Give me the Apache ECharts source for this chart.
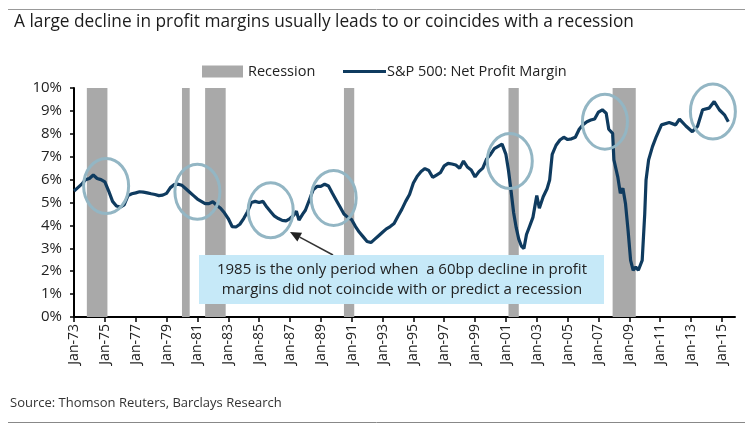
<!DOCTYPE html>
<html lang="en">
<head>
    <meta charset="UTF-8">
    <title>Profit margins and recessions</title>
    <style>
        html, body { margin: 0; padding: 0; background: #fff; }
        #main { width: 751px; height: 429px; }
    </style>
    <script src="https://cdn.jsdelivr.net/npm/echarts@6/dist/echarts.min.js"></script>
</head>
<body>
    <div id="main"></div>
    <script>
        // S&P 500 net profit margin (%)
        var dates = [
            '1973-01', '1973-04', '1973-07', '1973-10', '1974-01', '1974-04', '1974-07', '1974-10',
            '1975-01', '1975-04', '1975-07', '1975-10', '1976-01', '1976-04', '1976-07', '1976-10',
            '1977-01', '1977-04', '1977-07', '1977-10', '1978-01', '1978-04', '1978-07', '1978-10',
            '1979-01', '1979-04', '1979-07', '1979-10', '1980-01', '1980-04', '1980-07', '1980-10',
            '1981-01', '1981-04', '1981-07', '1981-10', '1982-01', '1982-04', '1982-07', '1982-10',
            '1983-01', '1983-04', '1983-07', '1983-10', '1984-01', '1984-04', '1984-07', '1984-10',
            '1985-01', '1985-04', '1985-07', '1985-10', '1986-01', '1986-04', '1986-07', '1986-10',
            '1987-01', '1987-04', '1987-06', '1987-08', '1987-11', '1988-01', '1988-04', '1988-07',
            '1988-10', '1989-01', '1989-04', '1989-07', '1989-10', '1990-01', '1990-04', '1990-07',
            '1990-10', '1991-01', '1991-04', '1991-07', '1991-10', '1992-01', '1992-04', '1992-07',
            '1992-10', '1993-01', '1993-04', '1993-07', '1993-10', '1994-01', '1994-04', '1994-07',
            '1994-10', '1995-01', '1995-04', '1995-07', '1995-10', '1996-01', '1996-04', '1996-07',
            '1996-10', '1997-01', '1997-04', '1997-07', '1997-10', '1998-01', '1998-04', '1998-07',
            '1998-10', '1999-01', '1999-04', '1999-07', '1999-10', '2000-01', '2000-04', '2000-07',
            '2000-10', '2001-01', '2001-03', '2001-05', '2001-07', '2001-09', '2001-11', '2002-01',
            '2002-03', '2002-05', '2002-07', '2002-10', '2003-01', '2003-03', '2003-06', '2003-09',
            '2003-11', '2004-01', '2004-04', '2004-07', '2004-10', '2005-01', '2005-04', '2005-07',
            '2005-10', '2006-01', '2006-04', '2006-07', '2006-10', '2007-01', '2007-04', '2007-07',
            '2007-09', '2007-12', '2008-01', '2008-04', '2008-06', '2008-08', '2008-10', '2008-12',
            '2009-02', '2009-04', '2009-06', '2009-08', '2009-11', '2010-01', '2010-02', '2010-04',
            '2010-07', '2010-10', '2011-02', '2011-08', '2012-01', '2012-04', '2012-09', '2013-02',
            '2013-06', '2013-10', '2014-03', '2014-07', '2014-11', '2015-03', '2015-06'
        ];
        var margins = [
            5.50, 5.65, 5.80, 6.00, 6.05, 6.20, 6.05, 6.00,
            5.90, 5.50, 5.05, 4.85, 4.80, 4.90, 5.30, 5.38,
            5.42, 5.47, 5.45, 5.42, 5.38, 5.35, 5.30, 5.32,
            5.40, 5.65, 5.78, 5.80, 5.75, 5.60, 5.45, 5.30,
            5.15, 5.05, 4.95, 4.95, 5.03, 4.88, 4.75, 4.55,
            4.30, 3.95, 3.93, 4.05, 4.30, 4.60, 5.00, 5.05,
            5.00, 5.05, 4.80, 4.60, 4.40, 4.30, 4.22, 4.20,
            4.30, 4.45, 4.62, 4.23, 4.50, 4.66, 5.10, 5.55,
            5.70, 5.70, 5.80, 5.72, 5.40, 5.10, 4.80, 4.50,
            4.35, 4.25, 3.95, 3.70, 3.50, 3.30, 3.25, 3.40,
            3.55, 3.70, 3.85, 3.95, 4.08, 4.40, 4.70, 5.05,
            5.35, 5.85, 6.15, 6.35, 6.48, 6.40, 6.10, 6.20,
            6.30, 6.60, 6.71, 6.68, 6.64, 6.50, 6.81, 6.55,
            6.42, 6.12, 6.35, 6.50, 6.90, 7.10, 7.35, 7.45,
            7.55, 7.10, 6.40, 5.50, 4.55, 3.90, 3.40, 3.10,
            2.99, 3.60, 3.90, 4.35, 5.30, 4.75, 5.25, 5.60,
            5.98, 7.10, 7.50, 7.73, 7.85, 7.75, 7.78, 7.85,
            8.20, 8.40, 8.53, 8.60, 8.65, 8.95, 9.05, 8.90,
            8.20, 8.02, 6.86, 6.12, 5.40, 5.62, 4.96, 3.79,
            2.47, 2.04, 2.18, 2.04, 2.47, 4.52, 5.98, 6.86,
            7.44, 7.88, 8.39, 8.49, 8.39, 8.64, 8.34, 8.09,
            8.32, 9.05, 9.12, 9.41, 9.05, 8.83, 8.53
        ];

        // NBER recessions
        var recessionStart = ['1973-11', '1980-01', '1981-07', '1990-07', '2001-03', '2007-12'];
        var recessionEnd   = ['1975-03', '1980-07', '1982-11', '1991-03', '2001-11', '2009-06'];

        // highlighted episodes (date, margin) for the circles
        var circleDates   = ['1975-02', '1981-01', '1985-10', '1989-11', '2001-04', '2007-06', '2014-06'];
        var circleMargins = [5.72, 5.47, 4.66, 5.20, 6.81, 8.53, 8.97];

        var baseYear = 1973;
        function toX(d) {
            var p = d.split('-');
            return (+p[0] - baseYear) + (+p[1] - 1) / 12;
        }

        var lineData = dates.map(function (d, i) { return [toX(d), margins[i]]; });
        var recessionData = recessionStart.map(function (d, i) { return [toX(d), toX(recessionEnd[i])]; });

        var fontName = '"Open Sans", sans-serif';
        var lineName = 'S&P 500: Net Profit Margin';

        var myChart = echarts.init(document.getElementById('main'));

        var option = {
            animation: false,
            title: {
                text: 'A large decline in profit margins usually leads to or coincides with a recession',
                left: 9,
                top: 9,
                textStyle: { fontFamily: fontName, fontSize: 17.3, fontWeight: 'normal', color: '#1c1c1c' }
            },
            legend: [{
                data: [{ name: 'Recession', icon: 'rect' }],
                left: 202,
                top: 64,
                padding: 0,
                itemWidth: 41,
                itemHeight: 12,
                textStyle: { fontFamily: fontName, fontSize: 14.5, color: '#222' }
            }, {
                data: [{ name: lineName, icon: 'rect' }],
                left: 343,
                top: 64,
                padding: 0,
                itemWidth: 43,
                itemHeight: 3,
                textStyle: { fontFamily: fontName, fontSize: 14.5, color: '#222', padding: [0, 0, 0, -4] }
            }],
            grid: {
                left: 74,
                right: 16,
                top: 88,
                bottom: 112
            },
            xAxis: {
                type: 'value',
                min: 0,
                max: 42.85,
                interval: 2,
                axisLine: { lineStyle: { color: '#000', width: 2 } },
                axisTick: { length: 5, lineStyle: { color: '#000', width: 1.5 } },
                splitLine: { show: false },
                axisLabel: {
                    rotate: 90,
                    margin: 7,
                    fontFamily: fontName,
                    fontSize: 14,
                    color: '#222',
                    showMaxLabel: false,
                    formatter: function (v) {
                        var y = (baseYear + Math.round(v)) % 100;
                        return 'Jan-' + (y < 10 ? '0' + y : y);
                    }
                }
            },
            yAxis: {
                type: 'value',
                min: 0,
                max: 10,
                interval: 1,
                axisLine: { show: true, lineStyle: { color: '#000', width: 2 } },
                axisTick: { show: true, length: 4, lineStyle: { color: '#000', width: 1.5 } },
                splitLine: { show: false },
                axisLabel: {
                    margin: 12,
                    fontFamily: fontName,
                    fontSize: 15,
                    color: '#222',
                    formatter: '{value}%'
                }
            },
            series: [{
                name: 'Recession',
                type: 'custom',
                itemStyle: { color: '#a9a9a9' },
                data: recessionData,
                encode: { x: [0, 1] },
                renderItem: function (params, api) {
                    var p0 = api.coord([api.value(0), 10]);
                    var p1 = api.coord([api.value(1), 0]);
                    return {
                        type: 'rect',
                        shape: { x: p0[0], y: p0[1], width: p1[0] - p0[0], height: p1[1] - p0[1] },
                        style: { fill: '#a9a9a9' }
                    };
                },
                z: 1
            }, {
                name: lineName,
                type: 'line',
                data: lineData,
                symbol: 'none',
                color: '#0f3b5f',
                lineStyle: { color: '#0f3b5f', width: 3.2 },
                z: 3
            }]
        };

        myChart.setOption(option);

        // annotations drawn on top of the plot
        var graphics = [];
        circleDates.forEach(function (d, i) {
            var c = myChart.convertToPixel({ gridIndex: 0 }, [toX(d), circleMargins[i]]);
            graphics.push({
                type: 'ellipse',
                shape: { cx: c[0], cy: c[1], rx: 22.5, ry: 27.5 },
                style: { fill: null, stroke: '#93b6c4', lineWidth: 3 },
                z: 10
            });
        });

        // arrow from the note box to the 1985 circle
        var tail = [333, 255], tip = [290, 232];
        var dx = tip[0] - tail[0], dy = tip[1] - tail[1];
        var len = Math.sqrt(dx * dx + dy * dy);
        var ux = dx / len, uy = dy / len;
        var bx = tip[0] - ux * 11, by = tip[1] - uy * 11;
        graphics.push({
            type: 'line',
            shape: { x1: tail[0], y1: tail[1], x2: bx, y2: by },
            style: { stroke: '#333', lineWidth: 1.5 },
            z: 11
        });
        graphics.push({
            type: 'polygon',
            shape: { points: [tip, [bx - uy * 5, by + ux * 5], [bx + uy * 5, by - ux * 5]] },
            style: { fill: '#222' },
            z: 11
        });

        graphics.push({
            type: 'rect',
            shape: { x: 199, y: 255, width: 405, height: 49 },
            style: { fill: '#c6e9f8' },
            z: 12
        });
        graphics.push({
            type: 'text',
            x: 402,
            y: 280,
            style: {
                text: '1985 is the only period when  a 60bp decline in profit\nmargins did not coincide with or predict a recession',
                fontFamily: fontName,
                fontSize: 15,
                lineHeight: 20,
                fill: '#222',
                align: 'center',
                verticalAlign: 'middle'
            },
            z: 13
        });

        // rules and source
        graphics.push({
            type: 'line',
            shape: { x1: 8, y1: 9.5, x2: 745, y2: 9.5 },
            style: { stroke: '#999', lineWidth: 1 }
        });
        graphics.push({
            type: 'line',
            shape: { x1: 8, y1: 422.5, x2: 745, y2: 422.5 },
            style: { stroke: '#888', lineWidth: 1 }
        });
        graphics.push({
            type: 'text',
            x: 10,
            y: 397,
            style: {
                text: 'Source: Thomson Reuters, Barclays Research',
                fontFamily: fontName,
                fontSize: 13,
                fill: '#333'
            }
        });

        myChart.setOption({ graphic: graphics });
    </script>
</body>
</html>
